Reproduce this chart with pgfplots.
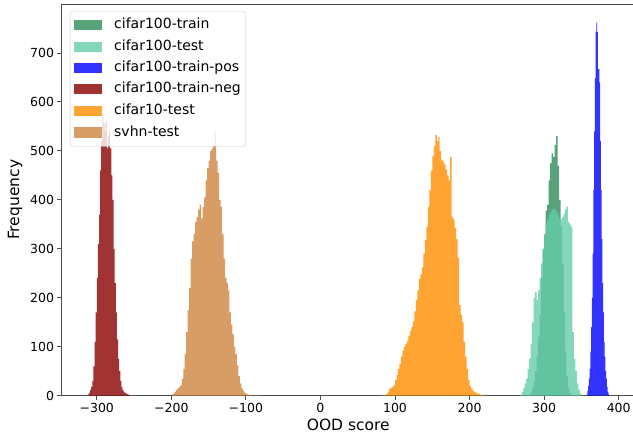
\documentclass[border=0pt]{standalone}
\usepackage{fontspec}
\setmainfont{DejaVu Sans}
\usepackage{pgfplots}
\pgfplotsset{compat=1.18}
\definecolor{cTrain}{RGB}{46,139,87}
\definecolor{cTest}{RGB}{102,205,170}
\definecolor{cPos}{RGB}{0,0,255}
\definecolor{cNeg}{RGB}{139,0,0}
\definecolor{cCten}{RGB}{255,140,0}
\definecolor{cSvhn}{RGB}{205,133,63}
\begin{document}
\begin{tikzpicture}
\begin{axis}[
  width=573.6pt, height=391.7pt, scale only axis,
  xmin=-347.3, xmax=422, ymin=0, ymax=800,
  xtick={-300,-200,-100,0,100,200,300,400},
  xticklabels={−300,−200,−100,0,100,200,300,400},
  ytick={0,100,200,300,400,500,600,700},
  tick pos=left, tick align=outside, major tick length=4pt,
  axis line style={black!70, line width=0.9pt},
  every tick/.style={black!70, line width=0.9pt},
  tick label style={font=\fontsize{12.5}{15}\selectfont},
  /pgf/number format/assume math mode=true,
  label style={font=\fontsize{15.5}{18}\selectfont},
  xlabel={OOD score}, ylabel={Frequency},
  xlabel style={at={(axis description cs:0.5,-0.09)}, anchor=base},
  ylabel style={at={(axis description cs:-0.081,0.5)}, anchor=center},
  legend style={at={(axis description cs:0.0148,0.982)}, anchor=north west,
    fill=white, fill opacity=0.8, text opacity=1, draw=black!20,
    rounded corners=3pt, font=\fontsize{14}{16}\selectfont,
    row sep=5.5pt, column sep=11pt, inner xsep=4pt, inner ysep=5.75pt,
    nodes={inner xsep=1pt, inner ysep=1pt, text height=10.5pt, text depth=3.5pt}},
  legend cell align=left,
  legend image code/.code={\fill[#1, sharp corners] (0pt,-5pt) rectangle (28pt,5pt);},
]
% cifar100-train
\addplot[const plot, fill=cTrain, fill opacity=0.8, draw=none] coordinates {
(280,2)(282,6)(284,15)(286,30)(288,50)(290,80)(292,120)(294,165)(296,240)(298,300)
(300,330)(302,378)(304,390)(306,440)(308,475)(310,495)(312,488)(314,512)(316,530)(318,470)
(320,400)(322,345)(324,270)(326,170)(328,90)(330,40)(332,15)(334,6)(336,2)(338,0)
} \closedcycle;
\addlegendentry{cifar100-train}
% cifar100-test
\addplot[const plot, fill=cTest, fill opacity=0.8, draw=none] coordinates {
(268,2)(270,8)(272,16)(274,25)(276,35)(278,55)(280,75)(282,105)(284,150)(286,200)
(288,212)(290,195)(292,215)(294,240)(296,270)(298,300)(300,330)(302,350)(304,360)(306,370)
(308,375)(310,380)(312,382)(314,380)(316,375)(318,370)(320,362)(322,360)(324,365)(326,372)
(328,380)(330,386)(332,355)(334,350)(336,345)(338,130)(340,75)(342,50)(344,25)(346,12)
(348,5)(350,0)
} \closedcycle;
\addlegendentry{cifar100-test}
% cifar100-train-pos
\addplot[const plot, fill=cPos, fill opacity=0.8, draw=none] coordinates {
(357,2)(358,10)(359,20)(360,35)(361,55)(362,90)(363,140)(364,200)(365,290)(366,420)
(367,540)(368,648)(369,743)(370,762)(371,743)(372,667)(373,667)(374,640)(375,520)(376,420)
(377,320)(378,230)(379,170)(380,110)(381,80)(382,50)(383,35)(384,18)(385,8)(386,3)
(387,1)(388,0)
} \closedcycle;
\addlegendentry{cifar100-train-pos}
% cifar100-train-neg
\addplot[const plot, fill=cNeg, fill opacity=0.8, draw=none] coordinates {
(-312,2)(-310.5,6)(-309,12)(-307.5,18)(-306,30)(-304.5,60)(-303,110)(-301.5,170)(-300,240)(-298.5,310)
(-297,370)(-295.5,460)(-294,520)(-292.5,575)(-291,555)(-289.5,540)(-288,560)(-286.5,505)(-285,530)(-283.5,540)
(-282,505)(-280.5,450)(-279,400)(-277.5,300)(-276,230)(-274.5,170)(-273,115)(-271.5,75)(-270,50)(-268.5,30)
(-267,18)(-265.5,12)(-264,8)(-262.5,6)(-261,4)(-259.5,3)(-258,2)(-256.5,1)(-255,0)
} \closedcycle;
\addlegendentry{cifar100-train-neg}
% cifar10-test
\addplot[const plot, fill=cCten, fill opacity=0.8, draw=none] coordinates {
(84,2)(86,0)(88,3)(90,8)(92,14)(94,16)(96,18)(98,22)(100,32)(102,42)
(104,55)(106,65)(108,80)(110,92)(112,100)(114,106)(116,112)(118,122)(120,132)(122,140)
(124,152)(126,172)(128,195)(130,215)(132,238)(134,248)(136,262)(138,290)(140,318)(142,345)
(144,385)(146,420)(148,460)(150,490)(152,510)(154,532)(156,520)(158,528)(160,500)(162,482)
(164,478)(166,472)(168,462)(170,450)(172,440)(174,488)(176,365)(178,360)(180,342)(182,320)
(184,282)(186,185)(188,165)(190,150)(192,110)(194,80)(196,55)(198,32)(200,20)(202,15)
(204,10)(206,8)(208,6)(210,4)(212,3)(214,2)(216,1)(218,2)(220,0)
} \closedcycle;
\addlegendentry{cifar10-test}
% svhn-test
\addplot[const plot, fill=cSvhn, fill opacity=0.8, draw=none] coordinates {
(-200,2)(-198,4)(-196,8)(-194,12)(-192,15)(-190,18)(-188,22)(-186,35)(-184,55)(-182,85)
(-180,130)(-178,175)(-176,220)(-174,280)(-172,315)(-170,330)(-168,355)(-166,365)(-164,380)(-162,390)
(-160,362)(-158,385)(-156,405)(-154,440)(-152,465)(-150,480)(-148,500)(-146,505)(-144,512)(-142,540)
(-140,480)(-138,455)(-136,400)(-134,386)(-132,330)(-130,280)(-128,240)(-126,230)(-124,215)(-122,170)
(-120,145)(-118,125)(-116,100)(-114,85)(-112,62)(-110,40)(-108,25)(-106,15)(-104,10)(-102,6)
(-100,4)(-98,2)(-96,1)(-94,1)(-92,0)(-90,0)(-88,1)(-86,0)(-84,2)(-82,0)
} \closedcycle;
\addlegendentry{svhn-test}
\end{axis}
\pgfresetboundingbox
\path ([xshift=-61.5pt,yshift=-38.3pt]current axis.south west) rectangle ++(633pt,434pt);
\end{tikzpicture}
\end{document}
